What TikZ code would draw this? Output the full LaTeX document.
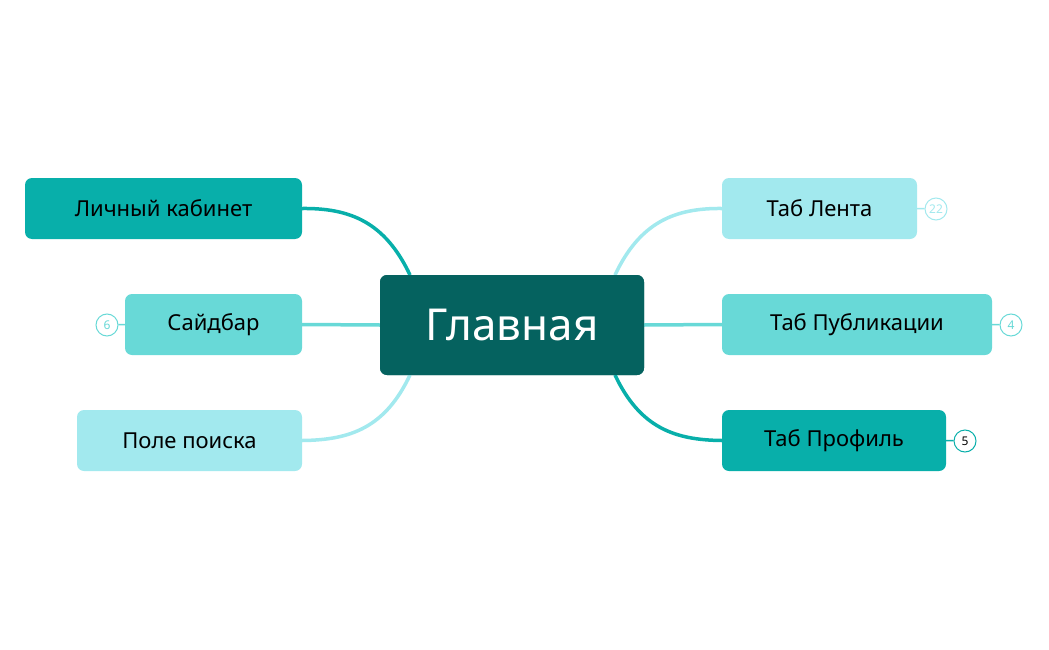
\documentclass[tikz,border=0pt]{standalone}
\usepackage{fontspec}
\setmainfont{Noto Sans}
\definecolor{cdark}{HTML}{05625F}
\definecolor{cmid}{HTML}{08AFAA}
\definecolor{clight}{HTML}{68D9D7}
\definecolor{cpale}{HTML}{A2E9EE}
\begin{document}
\begin{tikzpicture}[x=1pt,y=-1pt,
  box/.style={rounded corners=7pt,inner sep=0pt,font=\fontsize{22}{26}\selectfont},
  link/.style={line width=3.5pt},
  badge/.style={circle,draw,line width=1pt,fill=white,minimum size=22pt,inner sep=0pt,font=\fontsize{12}{14}\selectfont}]
\useasboundingbox (0,0) rectangle (1049,650);
\node[box,fill=cdark,text=white,minimum width=264pt,minimum height=100pt,font=\fontsize{44}{50}\selectfont] (m) at (512,325) {Главная};
\node[box,fill=cmid,minimum width=277pt,minimum height=61pt] (a) at (163.5,208.5) {Личный кабинет};
\node[box,fill=clight,minimum width=177pt,minimum height=61pt] (b) at (213.5,324.5) {Сайдбар};
\node[box,fill=cpale,minimum width=225pt,minimum height=61pt] (c) at (189.5,440.5) {Поле поиска};
\node[box,fill=cpale,minimum width=195pt,minimum height=61pt] (d) at (819.5,208.5) {Таб Лента};
\node[box,fill=clight,minimum width=270pt,minimum height=61pt] (e) at (857,324.5) {Таб Публикации};
\node[box,fill=cmid,minimum width=224pt,minimum height=61pt] (f) at (834,440.5) {Таб Профиль};
\coordinate (mtl) at (410,275); \coordinate (mbl) at (410,375);
\coordinate (mtr) at (615,275); \coordinate (mbr) at (615,375);
\begin{scope}[on background layer/.style={}]
\end{scope}
\draw[link,cmid] (mtl) .. controls (385,222) and (350,208) .. (a.east);
\draw[link,clight] (m.west) -- (b.east);
\draw[link,cpale] (mbl) .. controls (385,428) and (350,440) .. (c.east);
\draw[link,cpale] (mtr) .. controls (640,222) and (675,208) .. (d.west);
\draw[link,clight] (m.east) -- (e.west);
\draw[link,cmid] (mbr) .. controls (640,428) and (675,440) .. (f.west);
\node[box,fill=cdark,text=white,minimum width=264pt,minimum height=100pt,font=\fontsize{44}{50}\selectfont] at (512,325) {Главная};
\node[badge,draw=cpale,text=cpale] (bd) at (936,209) {22};
\node[badge,draw=clight,text=clight] (be) at (1011,325) {4};
\node[badge,draw=cmid,text=black] (bf) at (965,441) {5};
\node[badge,draw=clight,text=clight] (bb) at (107,325) {6};
\draw[line width=1.5pt,cpale] (d.east) -- (bd);
\draw[line width=1.5pt,clight] (e.east) -- (be);
\draw[line width=1.5pt,cmid] (f.east) -- (bf);
\draw[line width=1.5pt,clight] (b.west) -- (bb);
\end{tikzpicture}
\end{document}
